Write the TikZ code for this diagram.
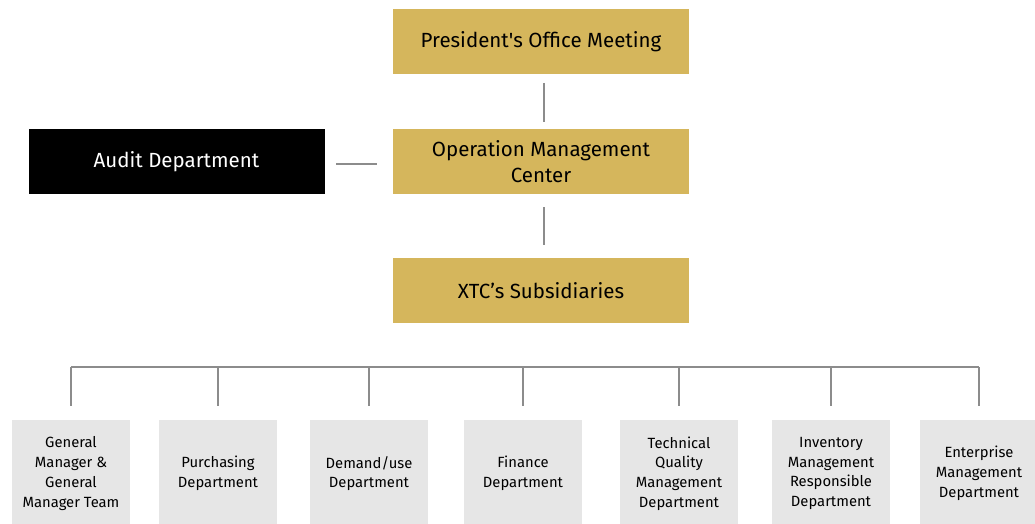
\documentclass[tikz,border=0pt]{standalone}
\usepackage{fontspec}
\setmainfont{Fira Sans}
\definecolor{gold}{RGB}{213,182,92}
\definecolor{lgray}{RGB}{230,230,230}
\definecolor{lnc}{RGB}{140,140,140}
\begin{document}
\begin{tikzpicture}[x=1pt,y=-1pt,
  goldbox/.style={fill=gold,minimum width=296pt,minimum height=65pt,inner sep=0pt,align=center,font=\fontsize{20.5}{26}\selectfont},
  deptbox/.style={fill=lgray,minimum width=118pt,minimum height=108pt,inner sep=0pt,align=center,font=\fontsize{14.8}{19.8}\selectfont},
  conn/.style={draw=lnc,line width=2.2pt}]
\useasboundingbox (0,0) rectangle (1035,524);
\begin{scope}
\clip (0,0) rectangle (1035,524);
\node[goldbox] (pres) at (541,41.5) {President\textquotesingle s Office Meeting};
\node[goldbox] (omc) at (541,161.5) {Operation Management\\Center};
\node[goldbox] (xtc) at (541,290.5) {XTC’s Subsidiaries};
\node[goldbox,fill=black,text=white] (audit) at (176.5,161.5) {Audit Department};
\coordinate (c1a) at (544,83); \coordinate (c1b) at (544,122);
\coordinate (c2a) at (544,207); \coordinate (c2b) at (544,245);
\coordinate (c3a) at (336,164); \coordinate (c3b) at (377,164);
\draw[conn] (c1a) -- (c1b);
\draw[conn] (c2a) -- (c2b);
\draw[conn] (c3a) -- (c3b);
\node[deptbox] (d1) at (71,473.5) {General\\Manager \&\\General\\Manager Team};
\node[deptbox] (d2) at (218,473.5) {Purchasing\\Department};
\node[deptbox] (d3) at (369,473.5) {Demand/use\\Department};
\node[deptbox] (d4) at (523,473.5) {Finance\\Department};
\node[deptbox] (d5) at (679,473.5) {Technical\\Quality\\Management\\Department};
\node[deptbox] (d6) at (831,473.5) {Inventory\\Management\\Responsible\\Department};
\node[deptbox] (d7) at (979,473.5) {Enterprise\\Management\\Department};
\coordinate (bus) at (0,367);
\foreach \d in {d1,d2,d3,d4,d5,d6,d7}{
  \draw[conn] (\d.north |- bus) -- ([yshift=13pt]\d.north);
}
\draw[conn] (d1.north |- bus) -- (d7.north |- bus);
\end{scope}
\end{tikzpicture}
\end{document}
